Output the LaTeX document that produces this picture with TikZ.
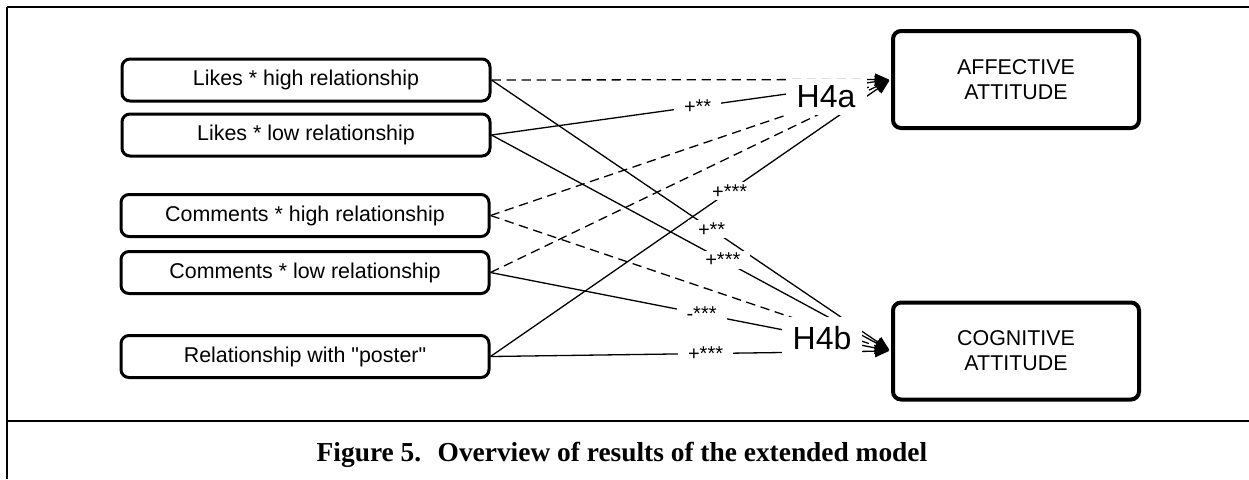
\documentclass[tikz,border=0pt]{standalone}
\usepackage{fontspec}
\setmainfont{Liberation Sans}[Ligatures=TeXOff]
\newfontfamily\capfont{Liberation Serif}
\usetikzlibrary{arrows.meta,positioning}

\begin{document}
\begin{tikzpicture}[
  x=0.5pt,y=-0.5pt,
  >={Triangle[length=7pt,width=6pt]},
  every node/.style={font=\fontsize{10.7}{12.5}\selectfont},
  var/.style={draw,line width=1.5pt,rounded corners=4pt,minimum width=184pt,minimum height=21pt,inner sep=0pt},
  att/.style={draw,line width=2pt,rounded corners=4pt,minimum width=123pt,minimum height=48.5pt,align=center,inner sep=0pt},
  eff/.style={->,line width=0.65pt,shorten >=1pt},
  nseff/.style={eff,dash pattern=on 4.7pt off 2.8pt},
  hyp/.style={fill=white,inner sep=0pt,font=\fontsize{16}{18}\selectfont},
  coef/.style={fill=white,inner xsep=5pt,inner ysep=1pt,font=\fontsize{10}{11}\selectfont}
]
  \useasboundingbox (0,0) rectangle (1249,479);
  \draw[line width=1.2pt] (1249,7) -- (7,7);
  \draw[line width=0.8pt] (7,7) -- (7,479);
  \draw[line width=1.2pt] (7,421) -- (1249,421);

  \node[var] (lh) at (306,80) {Likes * high relationship};
  \node[var] (ll) at (306,135) {Likes * low relationship};
  \node[var] (ch) at (305,215.5) {Comments * high relationship};
  \node[var] (cl) at (305,272.5) {Comments * low relationship};
  \node[var] (rp) at (305,356.5) {Relationship with "poster"};

  \node[att] (aff) at (1016,79.5) {AFFECTIVE\\ATTITUDE};
  \node[att] (cog) at (1016,351) {COGNITIVE\\ATTITUDE};

  % effects on affective attitude
  \draw[nseff] (lh.east) -- (aff.west);
  \draw[eff] (ll.east) -- (aff.west);
  \draw[nseff] (ch.east) -- (aff.west);
  \draw[nseff] (cl.east) -- (aff.west);
  \draw[eff] (rp.east) -- (aff.west);
  % effects on cognitive attitude
  \draw[eff] (lh.east) -- (cog.west);
  \draw[eff] (ll.east) -- (cog.west);
  \draw[nseff] (ch.east) -- (cog.west);
  \draw[eff] (cl.east) -- (cog.west);
  \draw[eff] (rp.east) -- (cog.west);

  \path (ll.east) -- node[coef,pos=0.516] (c1) {+**} (aff.west);
  \path (rp.east) -- node[coef,pos=0.597] (c2) {+***} (aff.west);
  \path (lh.east) -- node[coef,pos=0.551] (c3) {+**} (cog.west);
  \path (ll.east) -- node[coef,pos=0.579] (c4) {+***} (cog.west);
  \path (cl.east) -- node[coef,pos=0.527] (c5) {-***} (cog.west);
  \path (rp.east) -- node[coef,pos=0.537] (c6) {+***} (cog.west);

  \node[hyp,minimum width=40.5pt,minimum height=18pt] (h4a) at (826,97) {H4a};
  \node[hyp,minimum width=40pt,minimum height=21pt] (h4b) at (822,338) {H4b};

  \node[font=\capfont\bfseries\fontsize{13.7}{15}\selectfont] (cap) at (622,455)
    {Figure 5.\hspace{0.6em}Overview of results of the extended model};
\end{tikzpicture}
\end{document}
